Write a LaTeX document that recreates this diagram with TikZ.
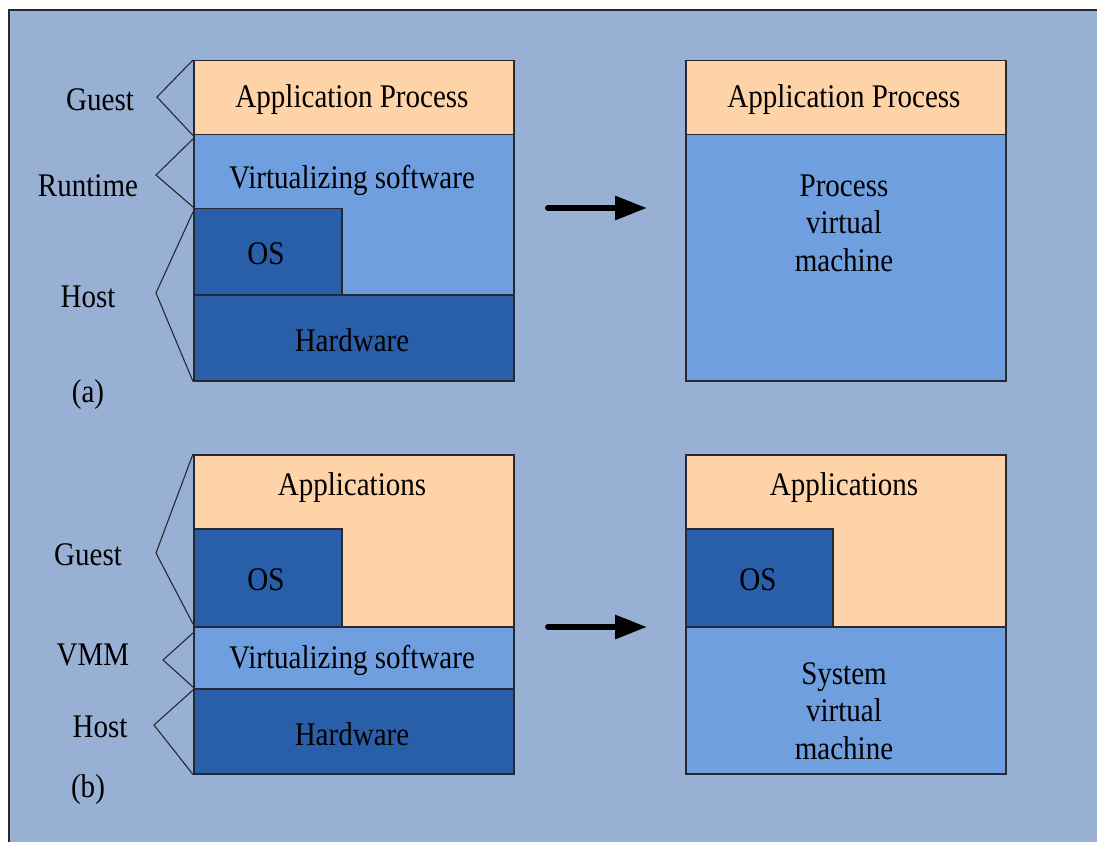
\documentclass[tikz,border=0pt]{standalone}
\usepackage{fontspec}
\setmainfont{Liberation Serif}[FakeStretch=0.88]
\usetikzlibrary{arrows.meta}
\definecolor{panel}{RGB}{151,176,212}
\definecolor{peach}{RGB}{255,211,168}
\definecolor{lblue}{RGB}{112,159,224}
\definecolor{dblue}{RGB}{41,94,168}
\definecolor{edge}{RGB}{40,40,50}
\begin{document}
\begin{tikzpicture}[x=1pt,y=-1pt,
  box/.style={draw=edge,line width=1.5pt,anchor=north west,inner sep=0pt},
  txt/.style={font=\fontsize{33}{37.5}\selectfont,text=black,align=center,inner sep=0pt,yshift=-3pt},
  brk/.style={draw=edge,line width=1.1pt},
  bigarrow/.style={line width=6pt,line cap=round,-{Triangle[length=32pt,width=23pt]}}]
\useasboundingbox (0,0) rectangle (1097,842);
\clip (0,0) rectangle (1097,842);
\fill[white] (0,0) rectangle (1097,842);
\draw[draw=edge,line width=1.5pt,fill=panel] (9,10) rectangle (1120,870);

% ---------- (a) left stack
\node[box,fill=peach,minimum width=320pt,minimum height=74pt] (aApp) at (193,60) {};
\node[box,fill=lblue,minimum width=320pt,minimum height=160pt] (aVirt) at (193,134) {};
\node[box,fill=dblue,minimum width=148pt,minimum height=86pt] (aOS) at (193,208) {};
\node[box,fill=dblue,minimum width=320pt,minimum height=86pt] (aHw) at (193,294) {};
\node[txt] (taApp) at (352,97) {Application Process};
\node[txt] (taVirt) at (352,177) {Virtualizing software};
\node[txt] (taOS) at (266,251) {OS};
\node[txt] (taHw) at (352,337) {Hardware};

% ---------- (a) right
\node[box,fill=peach,minimum width=320pt,minimum height=74pt] (rApp) at (685,60) {};
\node[box,fill=lblue,minimum width=320pt,minimum height=246pt] (rPVM) at (685,134) {};
\node[txt] (trApp) at (844,97) {Application Process};
\node[txt] (trPVM) at (844,220) {Process\\virtual\\machine};

% ---------- (b) left stack
\node[box,fill=peach,minimum width=320pt,minimum height=172pt] (bApp) at (193,454) {};
\node[box,fill=dblue,minimum width=148pt,minimum height=98pt] (bOS) at (193,528) {};
\node[box,fill=lblue,minimum width=320pt,minimum height=62pt] (bVirt) at (193,626) {};
\node[box,fill=dblue,minimum width=320pt,minimum height=85pt] (bHw) at (193,688) {};
\node[txt] (tbApp) at (352,485) {Applications};
\node[txt] (tbOS) at (266,577) {OS};
\node[txt] (tbVirt) at (352,657) {Virtualizing software};
\node[txt] (tbHw) at (352,731) {Hardware};

% ---------- (b) right
\node[box,fill=peach,minimum width=320pt,minimum height=172pt] (rbApp) at (685,454) {};
\node[box,fill=dblue,minimum width=147pt,minimum height=98pt] (rbOS) at (685,528) {};
\node[box,fill=lblue,minimum width=320pt,minimum height=147pt] (rbSVM) at (685,626) {};
\node[txt] (trbApp) at (844,485) {Applications};
\node[txt] (trbOS) at (758,577) {OS};
\node[txt] (trbSVM) at (844,708) {System\\virtual\\machine};

% ---------- side labels
\node[txt] (lGa) at (100,97) {Guest};
\node[txt] (lRa) at (88,183) {Runtime};
\node[txt] (lHa) at (88,294) {Host};
\node[txt] (la) at (88,392) {(a)};
\node[txt] (lGb) at (88,552) {Guest};
\node[txt] (lVb) at (93,652) {VMM};
\node[txt] (lHb) at (100,724) {Host};
\node[txt] (lb) at (88,787) {(b)};

% ---------- brackets
\coordinate (pGa) at (157,97);
\coordinate (sRa) at (193,139); \coordinate (pRa) at (156,175); \coordinate (eRa) at (193,207);
\coordinate (sHa) at (193,212); \coordinate (pHa) at (156,293);
\coordinate (pGb) at (156,553); \coordinate (eGb) at (193,624);
\coordinate (sVb) at (193,633); \coordinate (pVb) at (163,660); \coordinate (eVb) at (193,687);
\coordinate (sHb) at (193,690); \coordinate (pHb) at (154,725);
\draw[brk] (aApp.north west) -- (pGa) -- (aApp.south west);
\draw[brk] (sRa) -- (pRa) -- (eRa);
\draw[brk] (sHa) -- (pHa) -- (aHw.south west);
\draw[brk] (bApp.north west) -- (pGb) -- (eGb);
\draw[brk] (sVb) -- (pVb) -- (eVb);
\draw[brk] (sHb) -- (pHb) -- (bHw.south west);

% ---------- arrows
\coordinate (a1) at (548,208); \coordinate (a2) at (647,208);
\coordinate (b1) at (548,627); \coordinate (b2) at (647,627);
\draw[bigarrow] (a1) -- (a2);
\draw[bigarrow] (b1) -- (b2);
\end{tikzpicture}
\end{document}
